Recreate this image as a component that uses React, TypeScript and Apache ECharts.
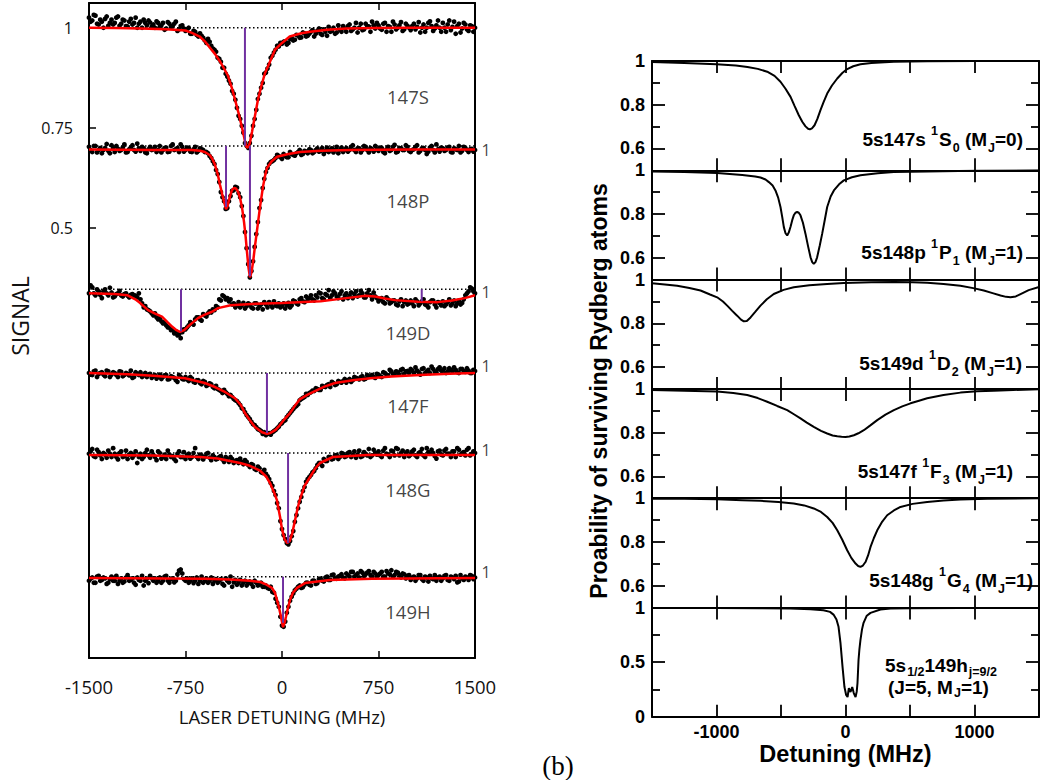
import React, { useEffect, useRef } from 'react';
import * as echarts from 'echarts';

// ---------- LEFT PANEL DATA (measured signal, baseline = 1) ----------
const X_GRID = [
  -1500,-1475,-1450,-1425,-1400,-1375,-1350,-1325,-1300,-1275,
  -1250,-1225,-1200,-1175,-1150,-1125,-1100,-1075,-1050,-1025,
  -1000,-975,-950,-925,-900,-875,-850,-825,-800,-775,
  -750,-725,-700,-675,-650,-625,-600,-575,-550,-525,
  -500,-475,-450,-425,-400,-375,-350,-325,-300,-275,
  -250,-225,-200,-175,-150,-125,-100,-75,-50,-25,
  0,25,50,75,100,125,150,175,200,225,
  250,275,300,325,350,375,400,425,450,475,
  500,525,550,575,600,625,650,675,700,725,
  750,775,800,825,850,875,900,925,950,975,
  1000,1025,1050,1075,1100,1125,1150,1175,1200,1225,
  1250,1275,1300,1325,1350,1375,1400,1425,1450,1475,
  1500,
];
const X_GRID_B = [
  -1487.5,-1462.5,-1437.5,-1412.5,-1387.5,-1362.5,-1337.5,-1312.5,-1287.5,-1262.5,
  -1237.5,-1212.5,-1187.5,-1162.5,-1137.5,-1112.5,-1087.5,-1062.5,-1037.5,-1012.5,
  -987.5,-962.5,-937.5,-912.5,-887.5,-862.5,-837.5,-812.5,-787.5,-762.5,
  -737.5,-712.5,-687.5,-662.5,-637.5,-612.5,-587.5,-562.5,-537.5,-512.5,
  -487.5,-462.5,-437.5,-412.5,-387.5,-362.5,-337.5,-312.5,-287.5,-262.5,
  -237.5,-212.5,-187.5,-162.5,-137.5,-112.5,-87.5,-62.5,-37.5,-12.5,
  12.5,37.5,62.5,87.5,112.5,137.5,162.5,187.5,212.5,237.5,
  262.5,287.5,312.5,337.5,362.5,387.5,412.5,437.5,462.5,487.5,
  512.5,537.5,562.5,587.5,612.5,637.5,662.5,687.5,712.5,737.5,
  762.5,787.5,812.5,837.5,862.5,887.5,912.5,937.5,962.5,987.5,
  1012.5,1037.5,1062.5,1087.5,1112.5,1137.5,1162.5,1187.5,1212.5,1237.5,
  1262.5,1287.5,1312.5,1337.5,1362.5,1387.5,1412.5,1437.5,1462.5,1487.5,
];

const SC_147S = [
  1.025,1.018,1.03,1.008,1.015,1.022,1.005,1.02,1.012,1.028,
  1.01,1.018,1.003,1.022,1.012,1.0,1.015,1.02,1.006,1.013,
  1.008,1.016,1.002,1.012,0.998,1.01,1.004,1.015,0.996,1.006,
  0.992,1.0,0.985,0.99,0.978,0.98,0.968,0.972,0.955,0.945,
  0.925,0.915,0.9,0.878,0.86,0.835,0.8,0.772,0.738,0.705,
  0.712,0.755,0.795,0.835,0.862,0.888,0.908,0.93,0.945,0.953,
  0.96,0.966,0.962,0.975,0.97,0.98,0.976,0.986,0.98,0.99,
  0.978,0.992,0.985,0.996,0.98,0.99,1.0,0.988,0.995,1.004,
  0.99,1.008,0.996,1.012,1.0,0.994,1.01,1.003,1.015,0.998,
  1.006,0.995,1.012,1.004,0.99,1.008,1.0,1.014,0.996,1.005,
  0.994,1.01,1.002,0.988,1.008,1.0,1.016,0.992,1.006,1.0,
  1.012,0.99,1.018,1.002,0.985,1.01,0.998,1.008,0.992,1.004,
  1.0,
];
const SC_147S_B = [
  1.015,1.032,1.01,1.02,1.0,1.028,1.012,1.008,1.025,1.005,
  1.02,1.004,1.015,1.008,1.025,1.01,1.0,1.012,1.018,1.002,
  1.0,1.012,1.006,0.995,1.014,1.002,1.01,0.992,1.004,0.998,
  0.996,0.985,0.992,0.982,0.986,0.975,0.962,0.965,0.948,0.94,
  0.922,0.9,0.885,0.868,0.842,0.82,0.78,0.755,0.712,0.7,
  0.73,0.772,0.822,0.85,0.885,0.898,0.925,0.938,0.955,0.962,
  0.965,0.958,0.972,0.968,0.982,0.975,0.988,0.978,0.985,0.994,
  0.985,0.998,0.982,0.99,1.002,0.992,0.985,1.006,0.99,0.998,
  1.004,0.992,1.0,0.988,1.01,0.996,1.004,0.99,1.006,1.012,
  0.998,1.01,0.99,1.002,1.015,0.996,1.006,0.992,1.01,1.0,
  1.004,0.996,1.014,1.0,0.99,1.012,1.004,0.998,1.018,0.99,
  1.0,1.008,0.994,1.015,1.004,0.988,1.012,0.996,1.006,0.99,
];
const SC_148P = [
  0.998,0.985,1.0,0.99,0.982,0.995,0.988,1.002,0.985,0.993,
  0.99,1.004,0.985,0.996,0.99,1.006,0.988,0.994,0.982,0.998,
  0.992,0.985,1.0,0.99,0.996,0.986,1.004,0.992,0.985,0.998,
  0.99,0.995,0.985,0.998,0.988,0.992,0.985,0.982,0.97,0.955,
  0.93,0.885,0.862,0.845,0.875,0.89,0.896,0.872,0.825,0.745,
  0.672,0.712,0.78,0.845,0.895,0.935,0.955,0.962,0.97,0.975,
  0.968,0.975,0.972,0.98,0.976,0.985,0.978,0.988,0.982,0.99,
  0.985,0.994,0.988,0.98,0.996,0.99,0.984,0.998,0.99,0.985,
  0.995,0.99,1.002,0.985,0.994,0.99,0.998,0.984,0.992,1.0,
  0.988,0.995,0.982,0.998,0.99,1.003,0.986,0.994,0.99,0.998,
  0.985,0.992,1.002,0.988,0.995,0.98,0.996,0.99,1.004,0.986,
  0.994,0.99,0.998,0.984,0.992,1.0,0.988,0.995,0.985,0.993,
  0.99,
];
const SC_148P_B = [
  0.99,1.0,0.984,0.995,0.99,1.005,0.982,0.994,1.0,0.988,
  0.996,0.984,0.992,1.002,0.986,0.994,0.998,0.984,0.992,0.99,
  0.998,0.99,0.984,0.995,0.985,1.0,0.99,0.995,1.004,0.986,
  0.996,0.986,0.992,0.984,0.994,0.99,0.985,0.975,0.962,0.94,
  0.91,0.872,0.843,0.862,0.888,0.898,0.882,0.85,0.785,0.705,
  0.688,0.748,0.81,0.865,0.918,0.945,0.96,0.965,0.978,0.972,
  0.98,0.972,0.985,0.978,0.982,0.99,0.98,0.986,0.992,0.982,
  0.99,0.986,0.995,0.988,0.985,0.994,0.99,0.982,0.996,0.99,
  0.986,0.998,0.99,0.994,0.984,1.0,0.99,0.995,0.986,0.992,
  0.996,0.985,0.992,0.988,0.998,0.984,0.995,0.99,1.002,0.988,
  0.99,0.998,0.984,0.994,0.99,0.986,1.0,0.984,0.992,0.996,
  0.988,0.996,0.985,0.994,0.99,0.984,0.998,0.99,0.992,0.986,
];
const SC_149D = [
  0.99,1.005,0.985,0.995,0.978,1.0,0.985,0.992,0.982,0.99,
  0.985,0.988,0.984,0.986,0.985,0.98,0.975,0.955,0.95,0.945,
  0.935,0.93,0.928,0.915,0.91,0.905,0.9,0.895,0.888,0.893,
  0.9,0.91,0.915,0.925,0.93,0.922,0.935,0.94,0.942,0.948,
  0.955,0.972,0.982,0.978,0.975,0.965,0.96,0.955,0.966,0.958,
  0.962,0.952,0.965,0.958,0.95,0.962,0.968,0.955,0.96,0.965,
  0.958,0.952,0.966,0.96,0.97,0.962,0.978,0.968,0.975,0.985,
  0.972,0.98,0.99,0.975,0.985,0.978,0.995,0.982,0.988,0.975,
  0.99,0.984,0.978,0.995,0.985,0.99,0.98,0.998,0.975,0.982,
  0.97,0.978,0.965,0.975,0.968,0.972,0.96,0.975,0.968,0.962,
  0.972,0.958,0.97,0.965,0.975,0.96,0.968,0.972,0.955,0.966,
  0.97,0.962,0.975,0.965,0.958,0.972,0.966,0.985,0.995,1.002,
  0.99,
];
const SC_149D_B = [
  1.01,0.99,1.0,0.986,0.995,0.99,1.004,0.98,0.988,0.996,
  0.982,0.99,0.98,0.988,0.984,0.99,0.965,0.958,0.948,0.94,
  0.94,0.925,0.92,0.918,0.905,0.898,0.89,0.885,0.878,0.9,
  0.905,0.918,0.912,0.93,0.925,0.938,0.932,0.945,0.95,0.958,
  0.975,0.985,0.975,0.97,0.962,0.955,0.968,0.96,0.952,0.965,
  0.955,0.965,0.952,0.962,0.968,0.955,0.962,0.97,0.958,0.955,
  0.965,0.96,0.955,0.972,0.965,0.975,0.97,0.982,0.978,0.975,
  0.985,0.992,0.978,0.988,0.998,0.985,0.99,0.978,0.995,0.985,
  0.978,0.992,0.988,0.982,0.996,0.98,0.99,0.985,0.992,0.978,
  0.975,0.968,0.98,0.965,0.972,0.962,0.97,0.958,0.972,0.965,
  0.965,0.975,0.96,0.97,0.962,0.955,0.972,0.962,0.968,0.96,
  0.958,0.968,0.96,0.972,0.965,0.962,0.975,0.99,1.005,0.995,
];
const SC_147F = [
  1.0,0.995,1.006,0.998,1.002,0.992,1.004,0.996,1.0,0.99,
  1.003,0.995,0.998,1.006,0.99,0.998,1.002,0.994,0.99,0.998,
  0.992,0.986,0.996,0.99,0.995,0.985,0.99,0.982,0.995,0.985,
  0.99,0.98,0.986,0.976,0.982,0.972,0.978,0.97,0.972,0.962,
  0.96,0.955,0.958,0.948,0.945,0.935,0.93,0.92,0.91,0.895,
  0.885,0.872,0.865,0.858,0.848,0.845,0.85,0.852,0.858,0.866,
  0.875,0.882,0.895,0.905,0.915,0.922,0.935,0.94,0.945,0.952,
  0.955,0.96,0.958,0.966,0.97,0.965,0.975,0.972,0.978,0.98,
  0.976,0.985,0.982,0.988,0.984,0.992,0.986,0.99,0.995,0.988,
  0.996,0.99,1.0,0.994,1.004,0.996,1.002,1.008,0.998,1.005,
  1.01,1.0,1.006,0.996,1.012,1.004,1.0,1.01,1.002,1.014,
  1.006,1.0,1.012,1.004,1.008,1.0,1.01,1.003,1.006,1.0,
  1.005,
];
const SC_147F_B = [
  0.996,1.004,0.99,1.0,0.996,1.006,0.99,1.002,0.995,1.004,
  0.992,1.0,0.994,0.988,1.002,0.995,0.99,1.0,0.996,0.988,
  0.995,0.99,0.985,0.994,0.984,0.992,0.988,0.978,0.99,0.984,
  0.984,0.99,0.978,0.982,0.975,0.98,0.968,0.974,0.965,0.968,
  0.958,0.95,0.952,0.942,0.94,0.932,0.925,0.912,0.902,0.89,
  0.878,0.87,0.86,0.855,0.852,0.848,0.846,0.855,0.862,0.872,
  0.88,0.89,0.9,0.91,0.918,0.932,0.938,0.948,0.95,0.956,
  0.962,0.958,0.968,0.965,0.972,0.978,0.97,0.98,0.976,0.985,
  0.982,0.978,0.99,0.986,0.99,0.984,0.995,0.992,0.99,0.998,
  0.992,1.002,0.996,1.008,0.998,1.004,0.996,1.01,1.004,1.0,
  1.006,1.014,1.002,1.01,1.0,1.008,1.016,1.004,1.01,1.006,
  1.012,1.004,1.008,1.014,1.002,1.01,1.005,1.012,1.0,1.008,
];
const SC_148G = [
  0.998,1.01,0.99,1.002,0.985,0.996,1.006,0.99,0.998,0.984,
  1.004,0.992,0.985,1.0,0.994,0.975,0.998,0.99,1.008,0.988,
  0.995,0.982,1.0,0.99,0.985,0.996,0.992,0.98,1.004,0.99,
  0.985,0.998,0.99,1.012,0.985,0.994,0.99,1.0,0.982,0.99,
  0.986,0.992,0.978,0.985,0.99,0.975,0.982,0.986,0.972,0.978,
  0.965,0.97,0.958,0.962,0.95,0.948,0.935,0.918,0.895,0.862,
  0.81,0.785,0.772,0.792,0.828,0.862,0.89,0.915,0.935,0.945,
  0.955,0.97,0.975,0.985,0.98,0.99,0.986,0.995,0.99,0.998,
  0.992,1.002,0.995,0.988,1.006,0.992,0.998,1.01,0.994,1.0,
  1.004,0.99,1.012,0.996,1.006,0.994,1.01,1.0,0.99,1.004,
  0.996,1.008,0.99,1.002,0.994,1.012,0.998,1.0,0.986,1.006,
  0.994,1.01,0.998,1.004,0.99,1.008,1.0,0.994,1.012,0.998,
  1.0,
];
const SC_148G_B = [
  1.004,0.992,1.008,0.994,1.0,0.988,0.998,1.012,0.99,1.0,
  0.99,1.006,0.996,0.988,1.004,0.99,0.985,1.0,0.994,1.004,
  0.99,1.004,0.986,0.996,1.006,0.99,0.985,0.998,0.99,1.002,
  0.994,0.986,1.0,0.99,0.996,0.984,0.998,0.988,0.994,0.984,
  0.99,0.984,0.99,0.978,0.985,0.98,0.975,0.978,0.982,0.97,
  0.972,0.96,0.966,0.952,0.958,0.942,0.925,0.905,0.875,0.83,
  0.795,0.775,0.78,0.805,0.845,0.878,0.905,0.928,0.94,0.952,
  0.962,0.975,0.968,0.98,0.99,0.984,0.994,0.985,1.0,0.99,
  1.0,0.99,1.004,0.996,0.99,1.002,0.994,0.99,1.008,0.996,
  0.994,1.006,0.998,0.99,1.004,1.012,0.994,1.006,1.0,0.992,
  1.004,0.994,1.0,1.01,0.99,1.002,1.008,0.992,1.004,0.996,
  1.006,0.998,0.99,1.004,1.012,0.996,1.002,1.008,0.994,1.004,
];
const SC_149H = [
  0.99,0.998,0.985,1.002,0.992,0.996,0.985,1.0,0.99,0.982,
  0.996,0.988,1.004,0.992,0.985,0.998,0.99,0.978,0.995,1.002,
  0.99,0.985,0.998,0.99,1.002,0.985,0.996,0.99,1.015,1.008,
  0.99,0.985,0.996,0.99,0.982,1.0,0.99,0.985,0.998,0.99,
  0.985,0.994,0.978,0.99,1.0,0.986,0.98,0.992,0.985,0.978,
  0.988,0.975,0.985,0.98,0.975,0.978,0.97,0.962,0.945,0.925,
  0.878,0.888,0.925,0.95,0.966,0.975,0.972,0.98,0.985,0.978,
  0.99,0.984,0.995,0.988,1.0,0.992,1.005,0.995,1.002,0.998,
  1.008,1.0,1.012,1.004,0.998,1.01,1.006,1.014,1.0,1.008,
  1.004,1.012,1.0,1.008,1.016,1.004,1.01,0.998,1.006,1.002,
  0.992,1.0,0.996,1.004,0.99,0.998,1.002,0.994,0.99,1.0,
  0.996,1.004,0.99,0.998,1.002,0.988,0.996,1.0,0.992,1.002,
  0.998,
];
const SC_149H_B = [
  0.995,0.985,1.0,0.99,0.998,0.982,0.994,0.99,1.002,0.99,
  0.985,0.998,0.99,0.996,0.98,0.992,1.002,0.99,0.984,0.996,
  0.996,0.99,0.985,1.0,0.99,0.994,0.986,1.006,1.018,0.994,
  0.996,0.99,0.984,0.998,0.99,0.985,0.996,0.99,0.982,0.994,
  0.99,0.982,0.996,0.986,0.975,0.992,0.985,0.978,0.99,0.984,
  0.982,0.99,0.978,0.985,0.975,0.972,0.975,0.96,0.935,0.9,
  0.875,0.91,0.94,0.958,0.97,0.978,0.974,0.985,0.98,0.99,
  0.982,0.994,0.99,0.998,0.992,1.004,0.996,1.0,1.006,0.996,
  1.004,1.012,1.0,1.008,1.014,1.002,1.01,1.004,1.012,1.0,
  1.008,1.0,1.014,1.006,1.0,1.012,1.004,1.008,0.996,1.004,
  0.998,0.99,1.004,0.994,1.0,0.988,0.996,1.004,0.998,0.99,
  1.002,0.992,1.0,0.994,0.986,1.004,0.992,0.998,1.004,0.994,
];

const FIT_147S: [number, number][] = [[-1500,1.0],[-1300,0.999],[-1100,0.998],[-900,0.996],[-750,0.993],[-700,0.987],[-640,0.978],[-600,0.966],[-560,0.95],[-520,0.934],[-480,0.915],[-450,0.898],[-420,0.88],[-390,0.85],[-365,0.82],[-340,0.79],[-325,0.77],[-300,0.735],[-290,0.72],[-280,0.706],[-272,0.70],[-260,0.704],[-250,0.712],[-233,0.74],[-210,0.78],[-187,0.82],[-160,0.855],[-132,0.887],[-100,0.91],[-55,0.945],[0,0.962],[60,0.978],[150,0.986],[220,0.99],[350,0.995],[500,0.998],[700,0.999],[1000,1.0],[1500,1.0]];
const FIT_148P: [number, number][] = [[-1500,0.991],[-1000,0.99],[-700,0.99],[-637,0.988],[-600,0.985],[-560,0.977],[-540,0.967],[-521,0.953],[-500,0.93],[-482,0.903],[-465,0.88],[-451,0.862],[-435,0.842],[-423,0.85],[-412,0.865],[-400,0.879],[-389,0.89],[-374,0.895],[-358,0.894],[-342,0.886],[-326,0.87],[-310,0.845],[-295,0.81],[-283,0.775],[-272,0.735],[-260,0.695],[-249,0.672],[-237,0.685],[-225,0.71],[-210,0.75],[-194,0.79],[-170,0.85],[-148,0.898],[-130,0.928],[-117,0.945],[-80,0.962],[-39,0.973],[50,0.98],[140,0.985],[300,0.988],[528,0.99],[1000,0.991],[1500,0.991]];
const FIT_149D: [number, number][] = [[-1500,0.99],[-1300,0.988],[-1200,0.985],[-1140,0.975],[-1100,0.965],[-1041,0.948],[-990,0.94],[-933,0.932],[-890,0.918],[-855,0.907],[-820,0.898],[-793,0.894],[-760,0.898],[-731,0.907],[-690,0.918],[-653,0.928],[-600,0.937],[-544,0.944],[-497,0.953],[-400,0.96],[-200,0.964],[0,0.966],[300,0.97],[500,0.978],[650,0.984],[723,0.982],[800,0.977],[878,0.973],[1057,0.969],[1212,0.968],[1321,0.972],[1420,0.978],[1500,0.985]];
const FIT_147F: [number, number][] = [[-1500,1.0],[-1200,0.997],[-1000,0.993],[-754,0.987],[-600,0.975],[-521,0.965],[-440,0.952],[-365,0.937],[-320,0.92],[-288,0.9],[-250,0.882],[-210,0.865],[-155,0.852],[-117,0.848],[-93,0.85],[-50,0.858],[-16,0.87],[20,0.885],[62,0.9],[100,0.918],[140,0.935],[200,0.946],[256,0.955],[330,0.966],[412,0.975],[550,0.982],[684,0.987],[850,0.991],[1073,0.995],[1300,0.998],[1500,1.0]];
const FIT_148G: [number, number][] = [[-1500,0.995],[-1000,0.994],[-637,0.99],[-500,0.986],[-326,0.975],[-250,0.968],[-171,0.956],[-120,0.94],[-93,0.925],[-60,0.9],[-40,0.883],[-15,0.84],[0,0.81],[20,0.785],[40,0.775],[60,0.78],[80,0.8],[100,0.83],[120,0.86],[140,0.885],[175,0.918],[218,0.94],[260,0.962],[295,0.975],[396,0.99],[660,0.995],[1500,0.995]];
const FIT_149H: [number, number][] = [[-1500,0.997],[-600,0.995],[-400,0.993],[-250,0.99],[-171,0.987],[-120,0.98],[-78,0.972],[-55,0.96],[-39,0.942],[-20,0.918],[-8,0.9],[8,0.874],[20,0.885],[31,0.9],[45,0.92],[62,0.942],[85,0.96],[117,0.972],[179,0.984],[373,0.992],[700,0.995],[1500,0.997]];

const TRACE_NAMES = ['147S', '148P', '149D', '147F', '148G', '149H'];
const TRACE_SCATTER = [SC_147S, SC_148P, SC_149D, SC_147F, SC_148G, SC_149H];
const TRACE_SCATTER_B = [SC_147S_B, SC_148P_B, SC_149D_B, SC_147F_B, SC_148G_B, SC_149H_B];
const TRACE_FITS = [FIT_147S, FIT_148P, FIT_149D, FIT_147F, FIT_148G, FIT_149H];
// vertical offset applied to each stacked trace
const TRACE_OFFSETS = [0, -0.2954, -0.6532, -0.8622, -1.0619, -1.3708];
// resonance markers: [trace index, detuning MHz, lower signal]
const PURPLE_LINES: [number, number, number][] = [
  [0, -288, 0.705], [1, -435, 0.848], [1, -249, 0.675], [2, -785, 0.895],
  [2, 1086, 0.97], [3, -117, 0.85], [4, 47, 0.775], [5, 8, 0.885],
];
const LEFT_Y_TICKS = [0.5, 0.75, 1];

// ---------- RIGHT PANEL DATA (theory, survival probability) ----------
const TH_147S: [number, number][] = [[-1500,0.995],[-1250,0.991],[-1000,0.985],[-850,0.979],[-760,0.973],[-680,0.964],[-607,0.951],[-550,0.932],[-504,0.905],[-465,0.873],[-426,0.836],[-395,0.795],[-362,0.752],[-335,0.722],[-310,0.701],[-290,0.69],[-276,0.687],[-260,0.692],[-240,0.706],[-218,0.735],[-194,0.775],[-170,0.812],[-142,0.851],[-105,0.888],[-64,0.92],[-25,0.945],[13,0.963],[60,0.976],[116,0.985],[200,0.991],[375,0.997],[633,0.999],[1000,1.0],[1500,1.0]];
const TH_148P: [number, number][] = [[-1500,0.995],[-1250,0.992],[-995,0.988],[-800,0.979],[-700,0.972],[-659,0.967],[-620,0.958],[-594,0.946],[-565,0.93],[-543,0.908],[-522,0.875],[-504,0.832],[-490,0.785],[-478,0.74],[-465,0.712],[-452,0.702],[-440,0.715],[-426,0.742],[-413,0.772],[-401,0.794],[-388,0.806],[-375,0.809],[-362,0.806],[-349,0.794],[-330,0.76],[-310,0.709],[-290,0.652],[-271,0.602],[-258,0.58],[-246,0.572],[-233,0.58],[-220,0.602],[-200,0.655],[-181,0.709],[-160,0.775],[-142,0.832],[-115,0.88],[-90,0.908],[-50,0.936],[-13,0.954],[50,0.968],[116,0.977],[250,0.987],[375,0.992],[633,0.995],[1000,0.998],[1500,1.0]];
const TH_149D: [number, number][] = [[-1500,0.983],[-1400,0.978],[-1305,0.972],[-1210,0.962],[-1124,0.95],[-1050,0.932],[-995,0.919],[-950,0.9],[-917,0.881],[-880,0.858],[-840,0.835],[-810,0.817],[-788,0.809],[-765,0.811],[-736,0.827],[-700,0.852],[-659,0.881],[-610,0.91],[-556,0.934],[-480,0.953],[-401,0.965],[-280,0.974],[-142,0.98],[-13,0.985],[200,0.988],[375,0.989],[520,0.988],[633,0.986],[760,0.98],[891,0.972],[990,0.961],[1072,0.95],[1140,0.938],[1202,0.927],[1245,0.921],[1279,0.919],[1320,0.923],[1357,0.934],[1420,0.952],[1500,0.966]];
const TH_147F: [number, number][] = [[-1500,0.995],[-1250,0.992],[-995,0.988],[-870,0.981],[-762,0.972],[-680,0.958],[-607,0.941],[-530,0.922],[-452,0.903],[-400,0.884],[-349,0.865],[-300,0.846],[-246,0.826],[-190,0.808],[-142,0.796],[-100,0.787],[-64,0.783],[-30,0.781],[0,0.78],[30,0.782],[65,0.788],[100,0.797],[142,0.811],[190,0.832],[246,0.857],[310,0.882],[375,0.903],[440,0.92],[504,0.934],[570,0.946],[633,0.957],[760,0.972],[891,0.983],[1020,0.989],[1150,0.992],[1300,0.995],[1500,0.998]];
const TH_148G: [number, number][] = [[-1500,0.998],[-1250,0.997],[-995,0.995],[-800,0.991],[-659,0.988],[-520,0.983],[-401,0.976],[-320,0.967],[-246,0.953],[-190,0.937],[-142,0.914],[-100,0.887],[-64,0.853],[-25,0.81],[13,0.762],[45,0.727],[78,0.701],[98,0.69],[116,0.686],[135,0.692],[155,0.708],[175,0.738],[194,0.777],[220,0.818],[246,0.853],[285,0.893],[323,0.922],[375,0.944],[426,0.96],[520,0.974],[633,0.983],[760,0.989],[891,0.994],[1100,0.997],[1500,1.0]];
const TH_149H: [number, number][] = [[-1500,0.996],[-1000,0.995],[-660,0.993],[-426,0.99],[-271,0.985],[-171,0.975],[-120,0.96],[-93,0.935],[-70,0.89],[-54,0.823],[-39,0.676],[-23,0.456],[-8,0.272],[5,0.2],[16,0.181],[26,0.263],[39,0.227],[52,0.272],[64,0.217],[78,0.181],[87,0.23],[93,0.309],[101,0.52],[108,0.62],[116,0.703],[128,0.8],[140,0.86],[165,0.925],[194,0.951],[271,0.982],[349,0.99],[500,0.993],[891,0.995],[1500,0.996]];

const THEORY = [TH_147S, TH_148P, TH_149D, TH_147F, TH_148G, TH_149H];
const RIGHT_Y_RANGE: [number, number][] = [[0.5, 1], [0.5, 1], [0.5, 1], [0.5, 1], [0.5, 1], [0, 1]];
const RIGHT_Y_MAJOR = [[0.6, 0.8, 1], [0.6, 0.8, 1], [0.6, 0.8, 1], [0.6, 0.8, 1], [0.6, 0.8, 1], [0, 0.5, 1]];
const RIGHT_Y_MINOR = [[0.7, 0.9], [0.7, 0.9], [0.7, 0.9], [0.7, 0.9], [0.7, 0.9], [0.25, 0.75]];
const THEORY_LABELS = [
  '{m|5s147s }{sup|1}{m|S}{sub|0}{m| (M}{sub|J}{m|=0)}',
  '{m|5s148p }{sup|1}{m|P}{sub|1}{m| (M}{sub|J}{m|=1)}',
  '{m|5s149d }{sup|1}{m|D}{sub|2}{m| (M}{sub|J}{m|=1)}',
  '{m|5s147f }{sup|1}{m|F}{sub|3}{m| (M}{sub|J}{m|=1)}',
  '{m|5s148g }{sup|1}{m|G}{sub|4}{m| (M}{sub|J}{m|=1)}',
];
const THEORY_LABEL_6A = '{m|5s}{sub|1/2}{m|149h}{sub|j=9/2}';
const THEORY_LABEL_6B = '{m|(J=5, M}{sub|J}{m|=1)}';

// ---------- LAYOUT / STYLE ----------
const FONT_L = '"Open Sans", sans-serif';
const FONT_R = '"Liberation Sans", Arial, sans-serif';
const L_GRID = { left: 89, top: 3, width: 386, height: 655 };
const L_YMIN = -0.5738;
const L_YMAX = 1.0617;
const R_LEFT = 652;
const R_WIDTH = 387;
const R_TOP = 61;
const R_H = 109.3;
const LABEL_POS_S = [0.827, 0.865, 0.891, 0.92, 0.908, 0.914];
const LABEL_X = 979;
const ONE_LABEL_DY = [0, 4, 3, -7, -3, -5];
const TH_LABEL_POS: [number, number][] = [[1023, 139], [1023, 252.5], [1022, 363], [1013, 471], [1033, 580]];

function buildOption(): any {
  const grids: any[] = [{ ...L_GRID, outerBoundsMode: 'none' }];
  for (let i = 0; i < 6; i++) {
    grids.push({ left: R_LEFT, width: R_WIDTH, top: R_TOP + i * R_H, height: R_H, outerBoundsMode: 'none' });
  }
  const black = { color: '#000', width: 2 };
  const xAxes: any[] = [];
  const yAxes: any[] = [];
  const leftTick = { color: '#000', width: 1.5 };
  xAxes.push({
    type: 'value', gridIndex: 0, position: 'bottom', min: -1500, max: 1500, interval: 750,
    axisLine: { show: true, onZero: false, lineStyle: black },
    axisTick: { show: true, inside: true, length: 7, lineStyle: leftTick },
    axisLabel: { show: true, margin: 19, fontSize: 18.5, fontFamily: FONT_L, color: '#111', formatter: (v: number) => String(v), showMinLabel: true, showMaxLabel: true },
    splitLine: { show: false },
    name: 'LASER DETUNING (MHz)', nameLocation: 'middle', nameGap: 49,
    nameTextStyle: { fontSize: 18.5, fontFamily: FONT_L, color: '#111' },
  });
  xAxes.push({
    type: 'value', gridIndex: 0, position: 'top', min: -1500, max: 1500, interval: 750,
    axisLine: { show: true, onZero: false, lineStyle: black },
    axisTick: { show: true, inside: true, length: 7, lineStyle: leftTick },
    axisLabel: { show: false }, splitLine: { show: false },
  });
  yAxes.push({
    type: 'value', gridIndex: 0, position: 'left', min: L_YMIN, max: L_YMAX,
    axisLine: { show: true, onZero: false, lineStyle: black },
    axisTick: { show: true, inside: true, length: 7, customValues: LEFT_Y_TICKS, lineStyle: leftTick },
    axisLabel: { show: true, customValues: LEFT_Y_TICKS, margin: 16, fontSize: 16, fontFamily: FONT_L, color: '#111', formatter: (v: number) => String(v) },
    splitLine: { show: false },
  });
  yAxes.push({
    type: 'value', gridIndex: 0, position: 'right', min: L_YMIN, max: L_YMAX,
    axisLine: { show: true, onZero: false, lineStyle: black },
    axisTick: { show: false }, axisLabel: { show: false }, splitLine: { show: false },
  });
  for (let i = 0; i < 6; i++) {
    const last = i === 5;
    const g = i + 1;
    const tickStyle = { color: '#000', width: 1.8 };
    xAxes.push({
      type: 'value', gridIndex: g, position: 'bottom', min: -1500, max: 1500, interval: 500,
      axisLine: { show: true, onZero: false, lineStyle: black },
      axisTick: { show: true, inside: true, length: 12, lineStyle: tickStyle },
      axisLabel: {
        show: last, margin: 6, fontSize: 18, fontWeight: 'bold', fontFamily: FONT_R, color: '#000',
        formatter: (v: number) => (Math.abs(v) < 1500 && v % 1000 === 0 ? String(v) : ''),
      },
      splitLine: { show: false },
      name: last ? 'Detuning (MHz)' : '', nameLocation: 'middle', nameGap: 25,
      nameTextStyle: { fontSize: 23.5, fontWeight: 'bold', fontFamily: FONT_R, color: '#000' },
    });
    xAxes.push({
      type: 'value', gridIndex: g, position: 'top', min: -1500, max: 1500, interval: 500,
      axisLine: { show: true, onZero: false, lineStyle: black },
      axisTick: { show: true, inside: true, length: 12, lineStyle: tickStyle },
      axisLabel: { show: false }, splitLine: { show: false },
    });
    const [mn, mx] = RIGHT_Y_RANGE[i];
    yAxes.push({
      type: 'value', gridIndex: g, position: 'left', min: mn, max: mx,
      axisLine: { show: true, onZero: false, lineStyle: black },
      axisTick: { show: true, inside: true, length: 13, customValues: RIGHT_Y_MAJOR[i], lineStyle: tickStyle },
      axisLabel: { show: true, customValues: RIGHT_Y_MAJOR[i], margin: 7, fontSize: 18, fontWeight: 'bold', fontFamily: FONT_R, color: '#000', formatter: (v: number) => String(v) },
      splitLine: { show: false },
    });
    yAxes.push({
      type: 'value', gridIndex: g, position: 'left', min: mn, max: mx,
      axisLine: { show: false, onZero: false },
      axisTick: { show: true, inside: true, length: 8, customValues: RIGHT_Y_MINOR[i], lineStyle: tickStyle },
      axisLabel: { show: false }, splitLine: { show: false },
    });
    yAxes.push({
      type: 'value', gridIndex: g, position: 'right', min: mn, max: mx,
      axisLine: { show: true, onZero: false, lineStyle: black },
      axisTick: { show: true, inside: true, length: 13, customValues: RIGHT_Y_MAJOR[i], lineStyle: tickStyle },
      axisLabel: { show: false }, splitLine: { show: false },
    });
    yAxes.push({
      type: 'value', gridIndex: g, position: 'right', min: mn, max: mx,
      axisLine: { show: false, onZero: false },
      axisTick: { show: true, inside: true, length: 8, customValues: RIGHT_Y_MINOR[i], lineStyle: tickStyle },
      axisLabel: { show: false }, splitLine: { show: false },
    });
  }

  const series: any[] = [];
  TRACE_OFFSETS.forEach((off, i) => {
    series.push({
      type: 'line', name: 'base' + i, xAxisIndex: 0, yAxisIndex: 0, symbol: 'none', silent: true,
      data: [[-1500, 1 + off], [1500, 1 + off]],
      lineStyle: { color: '#000', width: 1.5, type: [1.5, 2.5] },
    });
  });
  TRACE_FITS.forEach((fit, i) => {
    const off = TRACE_OFFSETS[i];
    series.push({
      type: 'line', name: 'fit' + i, xAxisIndex: 0, yAxisIndex: 0, symbol: 'none', silent: true,
      data: fit.map(([x, s]) => [x, s + off]),
      lineStyle: { color: '#ff0000', width: 2.5 },
    });
  });
  TRACE_SCATTER.forEach((vals, i) => {
    const off = TRACE_OFFSETS[i];
    const valsB = TRACE_SCATTER_B[i];
    const pts = X_GRID.map((x, k) => [x, vals[k] + off]).concat(X_GRID_B.map((x, k) => [x, valsB[k] + off]));
    series.push({
      type: 'scatter', name: TRACE_NAMES[i], xAxisIndex: 0, yAxisIndex: 0, symbol: 'circle', symbolSize: 4.8,
      data: pts, itemStyle: { color: '#000', opacity: 1 }, silent: true,
    });
  });
  PURPLE_LINES.forEach(([ti, x, low], k) => {
    const off = TRACE_OFFSETS[ti];
    series.push({
      type: 'line', name: 'res' + k, xAxisIndex: 0, yAxisIndex: 0, symbol: 'none', silent: true,
      data: [[x, 1 + off], [x, low + off]],
      lineStyle: { color: '#7030a0', width: 2 },
    });
  });
  series.push({
    type: 'scatter', name: 'names', xAxisIndex: 0, yAxisIndex: 0, symbolSize: 1, silent: true,
    itemStyle: { color: 'rgba(0,0,0,0)' },
    data: TRACE_NAMES.map((n, i) => ({ value: [LABEL_X, LABEL_POS_S[i] + TRACE_OFFSETS[i]], name: n })),
    label: { show: true, position: 'inside', formatter: (p: any) => p.name, fontSize: 18.5, fontFamily: FONT_L, color: '#111' },
  });
  series.push({
    type: 'scatter', name: 'ones', xAxisIndex: 0, yAxisIndex: 0, symbolSize: 1, silent: true, clip: false,
    itemStyle: { color: 'rgba(0,0,0,0)' },
    data: TRACE_OFFSETS.slice(1).map((off, j) => ({
      value: [1500, 1 + off],
      label: { offset: [0, ONE_LABEL_DY[j + 1]] },
    })),
    label: { show: true, position: 'right', distance: 6, formatter: '1', fontSize: 16, fontFamily: FONT_L, color: '#111' },
  });
  THEORY.forEach((th, i) => {
    series.push({
      type: 'line', name: 'th' + i, xAxisIndex: 2 + 2 * i, yAxisIndex: 2 + 4 * i, symbol: 'none', silent: true,
      data: th, lineStyle: { color: '#000', width: 2 },
    });
  });

  const rich = {
    m: { fontSize: 19, fontWeight: 'bold', fontFamily: FONT_R, lineHeight: 30, verticalAlign: 'middle', fill: '#000' },
    sup: { fontSize: 12.5, fontWeight: 'bold', fontFamily: FONT_R, lineHeight: 23, verticalAlign: 'top', fill: '#000', padding: [0, 1, 0, 0] },
    sub: { fontSize: 12.5, fontWeight: 'bold', fontFamily: FONT_R, lineHeight: 13, verticalAlign: 'bottom', fill: '#000', padding: [0, 0, 0, 1] },
  };
  const rich6 = {
    m: { fontSize: 19, fontWeight: 'bold', fontFamily: FONT_R, lineHeight: 19, verticalAlign: 'middle', fill: '#000' },
    sub: { fontSize: 12.5, fontWeight: 'bold', fontFamily: FONT_R, lineHeight: 9, verticalAlign: 'middle', fill: '#000', padding: [12, 0, 0, 1] },
  };
  const graphics: any[] = [];
  THEORY_LABELS.forEach((t, i) => {
    graphics.push({
      type: 'text', x: TH_LABEL_POS[i][0], y: TH_LABEL_POS[i][1], silent: true,
      style: { text: t, rich, align: 'right', verticalAlign: 'middle', fill: '#000', font: 'bold 19px "Liberation Sans"' },
    });
  });
  graphics.push({
    type: 'text', x: 885, y: 665.5, silent: true,
    style: { text: THEORY_LABEL_6A, rich: rich6, align: 'left', verticalAlign: 'middle', fill: '#000', font: 'bold 19px "Liberation Sans"' },
  });
  graphics.push({
    type: 'text', x: 888, y: 687, silent: true,
    style: { text: THEORY_LABEL_6B, rich: rich6, align: 'left', verticalAlign: 'middle', fill: '#000', font: 'bold 19px "Liberation Sans"' },
  });
  graphics.push({
    type: 'text', x: 599, y: 391, rotation: Math.PI / 2, silent: true,
    style: { text: 'Proability of surviving Rydberg atoms', align: 'center', verticalAlign: 'middle', fill: '#000', font: 'bold 23px "Liberation Sans", Arial, sans-serif' },
  });
  graphics.push({
    type: 'text', x: 20, y: 316, rotation: Math.PI / 2, silent: true,
    style: { text: 'SIGNAL', align: 'center', verticalAlign: 'middle', fill: '#111', font: '23px "Open Sans", sans-serif' },
  });
  graphics.push({
    type: 'text', x: 558, y: 766, silent: true,
    style: { text: '(b)', align: 'center', verticalAlign: 'middle', fill: '#000', font: '27px "Liberation Serif", serif' },
  });

  return {
    animation: false,
    backgroundColor: '#ffffff',
    grid: grids,
    xAxis: xAxes,
    yAxis: yAxes,
    series,
    graphic: graphics,
  };
}

export default function App() {
  const ref = useRef<HTMLDivElement>(null);
  useEffect(() => {
    if (!ref.current) return;
    const chart = echarts.init(ref.current, null, { renderer: 'svg' });
    chart.setOption(buildOption());
    return () => chart.dispose();
  }, []);
  return (
    <div
      ref={ref}
      style={{ position: 'fixed', left: 0, top: 0, width: 1042, height: 780, background: '#fff' }}
    />
  );
}
